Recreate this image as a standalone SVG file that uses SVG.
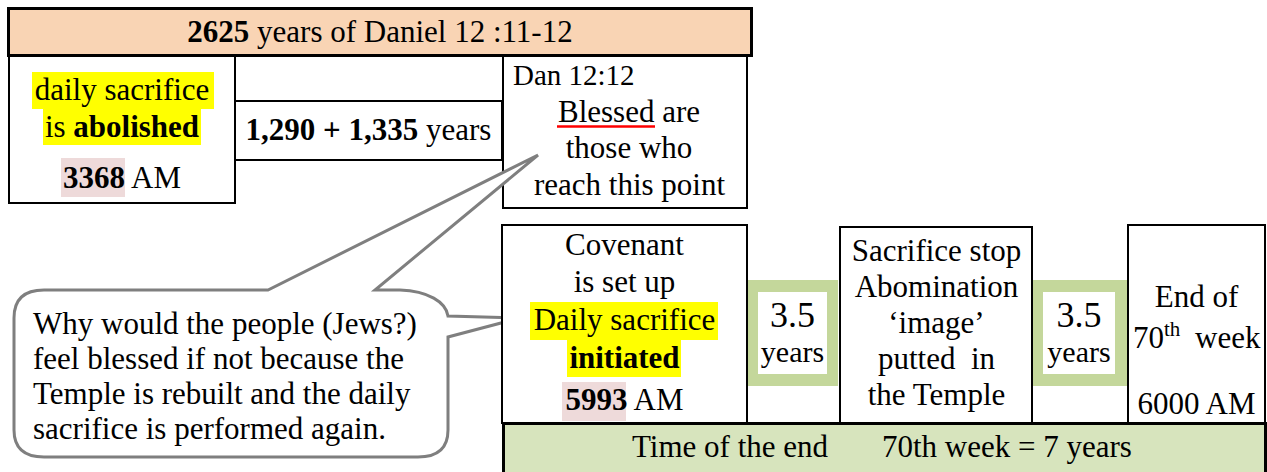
<svg xmlns="http://www.w3.org/2000/svg" width="1267" height="472" viewBox="0 0 1267 472">
<style>
.t{font-family:"Liberation Serif","Times New Roman",serif;font-size:31px;fill:#000}
.c{text-anchor:middle}
.b{font-weight:bold}
.box{fill:#fff;stroke:#000;stroke-width:2}
.thick{stroke:#000;stroke-width:3}
.hy{fill:#ffff00}
.hp{fill:#eedada}
.grn{fill:#c4d79b}
.in{fill:#fff}
.call{fill:#fff;stroke:#7f7f7f;stroke-width:3;stroke-linejoin:miter}
</style>
<rect width="1267" height="472" fill="#fff"/>

<g id="header">
<rect x="8.5" y="8.5" width="743" height="47" fill="#f9d4b4" class="thick"/>
<text class="t c" x="380" y="42"><tspan class="b">2625</tspan> years of Daniel 12 :11-12</text>
</g>

<g id="abolished">
<rect class="box" x="9" y="56" width="226" height="147"/>
<rect class="hy" x="32" y="72" width="182" height="37"/>
<rect class="hy" x="43" y="109" width="158" height="36"/>
<rect class="hp" x="61" y="158" width="64" height="39"/>
<text class="t c" x="122" y="100">daily sacrifice</text>
<text class="t c" x="122" y="137">is <tspan class="b">abolished</tspan></text>
<text class="t c" x="122" y="188"><tspan class="b">3368</tspan> AM</text>
</g>

<g id="span">
<line x1="235" y1="56" x2="503" y2="56" stroke="#000" stroke-width="1"/>
<rect class="box" x="235" y="101" width="267" height="59"/>
<text class="t c" x="368.5" y="140"><tspan class="b">1,290 + 1,335</tspan> years</text>
</g>

<g id="blessed">
<rect class="box" x="503" y="56" width="244" height="152"/>
<text class="t" x="513" y="85" style="font-size:29px">Dan 12:12</text>
<text class="t c" x="629" y="122">Blessed are</text>
<line x1="557" y1="126.5" x2="655" y2="126.5" stroke="#ff0000" stroke-width="2.5"/>
<text class="t c" x="629" y="158">those who</text>
<text class="t c" x="629.5" y="195">reach this point</text>
</g>

<g id="callout">
<path class="call" d="M 44,290 L 268,290 L 538,155 L 375,290 L 400,290 C 428,291 446,302 448,316 L 520,318 L 448,337 L 448,430 Q 448,457 418,457 L 44,457 Q 14,457 14,430 L 14,318 Q 14,290 44,290 Z"/>
<text class="t" x="33" y="334">Why would the people (Jews?)</text>
<text class="t" x="33" y="369">feel blessed if not because the</text>
<text class="t" x="33" y="404">Temple is rebuilt and the daily</text>
<text class="t" x="33" y="439">sacrifice is performed again.</text>
</g>

<g id="covenant">
<rect class="box" x="502" y="225" width="245" height="198"/>
<rect class="hy" x="530" y="302" width="188" height="38"/>
<rect class="hy" x="567" y="340" width="114" height="37"/>
<rect class="hp" x="562" y="382" width="64" height="39"/>
<text class="t c" x="624.5" y="255">Covenant</text>
<text class="t c" x="624.5" y="292">is set up</text>
<text class="t c" x="624.5" y="330">Daily sacrifice</text>
<text class="t c b" x="624.5" y="368">initiated</text>
<text class="t c" x="624.5" y="410"><tspan class="b">5993</tspan> AM</text>
</g>

<g id="half1">
<rect class="grn" x="748" y="280" width="90" height="106"/>
<rect class="in" x="758" y="292" width="69" height="82"/>
<text class="t c" x="792.5" y="327" style="font-size:36px">3.5</text>
<text class="t c" x="792.5" y="362" style="font-size:30px">years</text>
</g>

<g id="abomination">
<rect class="box" x="840" y="227" width="192" height="196"/>
<text class="t c" x="936.5" y="261">Sacrifice stop</text>
<text class="t c" x="936.5" y="297">Abomination</text>
<text class="t c" x="936.5" y="333">‘image’</text>
<text class="t c" x="936.5" y="369" xml:space="preserve">putted  in</text>
<text class="t c" x="936.5" y="405">the Temple</text>
</g>

<g id="half2">
<rect class="grn" x="1033" y="280" width="94" height="106"/>
<rect class="in" x="1043" y="292" width="72" height="82"/>
<text class="t c" x="1079" y="327" style="font-size:36px">3.5</text>
<text class="t c" x="1079" y="362" style="font-size:30px">years</text>
</g>

<g id="end">
<rect class="box" x="1128" y="225" width="137" height="198"/>
<text class="t c" x="1196.5" y="307">End of</text>
<text class="t" x="1133" y="348">70<tspan style="font-size:21px" dy="-12">th</tspan><tspan x="1195" dy="12">week</tspan></text>
<text class="t c" x="1196.5" y="414">6000 AM</text>
</g>

<g id="time">
<rect x="503.5" y="423.5" width="762" height="52" fill="#d7e4bd" class="thick"/>
<text class="t" y="457"><tspan x="632">Time of the end</tspan><tspan x="882">70th week = 7 years</tspan></text>
</g>

<g id="connectors"></g>
</svg>
